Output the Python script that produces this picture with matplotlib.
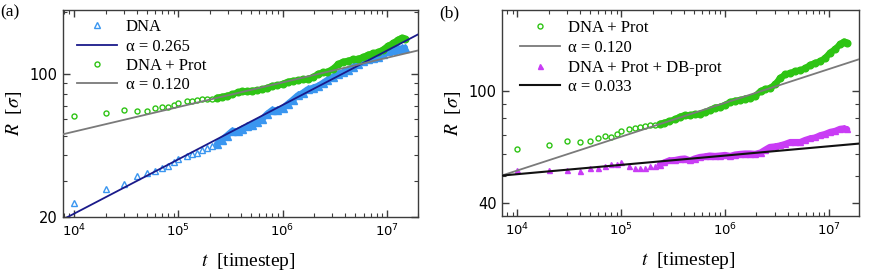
import numpy as np
import matplotlib
matplotlib.use('Agg')
import matplotlib.pyplot as plt
from matplotlib.ticker import FixedLocator, NullFormatter, LogLocator
from matplotlib.font_manager import FontProperties

# ---- data ----
timestep = [1e4, 2e4, 3e4, 4e4, 5e4, 6e4, 7e4, 8e4, 9e4, 1e5,
            1.2e5, 1.35e5, 1.5e5, 1.7e5, 1.9e5, 2.1e5, 2.35e5, 2.6e5, 2.9e5, 3.3e5,
            3.7e5, 4.1e5, 4.6e5, 5.1e5, 5.7e5, 6.4e5, 7.1e5, 8e5, 8.9e5, 1e6,
            1.12e6, 1.25e6, 1.4e6, 1.56e6, 1.74e6, 1.95e6, 2.2e6, 2.45e6, 2.7e6, 3.05e6,
            3.4e6, 3.8e6, 4.25e6, 4.75e6, 5.3e6, 5.9e6, 6.6e6, 7.4e6, 8.2e6, 9.2e6,
            1.03e7, 1.15e7, 1.28e7, 1.4e7, 1.5e7]

R_dna = [23.3, 27.5, 29.0, 31.6, 32.9, 33.4, 34.6, 35.5, 37.1, 38.3,
         39.7, 40.4, 41.3, 42.3, 43.5, 44.5, 45.5, 47.6, 49.8, 52.7,
         52.4, 53.9, 55.4, 56.3, 58.3, 60.3, 63.7, 66.7, 66.3, 67.8,
         71.3, 74.6, 78.5, 80.7, 84.0, 85.4, 87.4, 90.4, 93.5, 96.7,
         100.0, 101.7, 104.6, 108.2, 111.9, 115.8, 117.7, 119.7, 121.1, 125.2,
         128.8, 130.3, 132.5, 133.2, 134.0]

R_dna_prot = [62.3, 64.3, 66.4, 65.7, 66.2, 68.0, 69.0, 68.8, 70.5, 71.9,
              73.4, 74.0, 74.8, 75.3, 75.5, 75.6, 76.5, 77.2, 78.1, 79.4,
              81.2, 82.1, 82.1, 82.8, 83.0, 84.0, 85.4, 87.4, 87.8, 89.3,
              91.4, 92.4, 92.9, 94.0, 94.5, 96.1, 100.0, 101.7, 102.3, 105.8,
              111.3, 114.5, 115.8, 117.7, 118.4, 120.4, 123.8, 125.9, 127.4, 131.0,
              137.0, 140.9, 146.6, 149.9, 148.3]

R_dna_prot_db = [52.5, 52.5, 52.5, 51.9, 53.2, 53.5, 54.3, 55.0, 55.0, 55.8,
                 54.0, 53.3, 53.1, 53.5, 54.0, 54.4, 54.8, 55.8, 56.7, 56.9,
                 57.4, 57.6, 56.7, 57.6, 58.3, 58.6, 59.0, 58.8, 59.0, 59.3,
                 58.8, 59.5, 59.8, 60.0, 60.0, 59.8, 60.5, 62.0, 63.3, 63.6,
                 64.1, 64.9, 65.9, 65.9, 65.9, 67.0, 67.9, 68.4, 69.6, 70.4,
                 71.6, 72.2, 73.4, 73.7, 73.1]

alpha_dna, pref_dna = 0.265, 1.81
alpha_prot, pref_prot = 0.120, 17.3
alpha_db, pref_db = 0.033, 37.4

labels_a = ['DNA', 'α = 0.265', 'DNA + Prot', 'α = 0.120']
labels_b = ['DNA + Prot', 'α = 0.120', 'DNA + Prot + DB-prot', 'α = 0.033']

# ---- style ----
plt.rcParams['mathtext.fontset'] = 'dejavusans'
plt.rcParams['font.family'] = ['DejaVu Sans']

C_BLUE = '#3a96f0'
C_NAVY = '#1a1a8a'
C_GREEN = '#2ec414'
C_PURPLE = '#c93cf5'
C_GRAY = '#7a7a7a'
C_BLACK = '#111111'
C_SPINE = '#3c3c3c'

fp_leg = FontProperties(family='Liberation Serif', size=12)
fp_lab = FontProperties(family='Liberation Serif', size=14, math_fontfamily='stix')

t = np.array(timestep)
dense = t >= 2.35e5

fig = plt.figure(figsize=(8.72, 2.78), dpi=100)
axA = fig.add_axes([63/872, 1-217/278, 355/872, 207/278])
axB = fig.add_axes([502/872, 1-216/278, 357/872, 206/278])


def style(ax, xlim, ylim, yticks, yminor):
    ax.set_xscale('log')
    ax.set_yscale('log')
    ax.set_xlim(*xlim)
    ax.set_ylim(*ylim)
    ax.yaxis.set_major_locator(FixedLocator(yticks))
    ax.set_yticklabels([str(v) for v in yticks])
    ax.yaxis.set_minor_locator(FixedLocator(yminor))
    ax.yaxis.set_minor_formatter(NullFormatter())
    ax.xaxis.set_major_locator(LogLocator(base=10))
    ax.xaxis.set_minor_locator(LogLocator(base=10, subs=np.arange(2, 10)))
    ax.xaxis.set_minor_formatter(NullFormatter())
    ax.tick_params(which='both', direction='in', top=True, right=True, color=C_SPINE)
    ax.tick_params(which='major', length=5, width=1)
    ax.tick_params(which='minor', length=3, width=0.8)
    ax.tick_params(axis='y', labelsize=10.5, pad=4)
    ax.tick_params(axis='x', labelsize=9.5, pad=4)
    for s in ax.spines.values():
        s.set_color(C_SPINE)
        s.set_linewidth(1)
    ax.set_xlabel(r'$t$  [timestep]', fontproperties=fp_lab)
    ax.set_ylabel(r'$R$  [$\sigma$]', fontproperties=fp_lab, labelpad=4)
    ax.xaxis.set_label_coords(0.523, -0.165)


def series(ax, R, marker, color, filled, ms):
    R = np.array(R)
    # dense late-time samples overlap into a solid noisy band
    ax.plot(t[dense], R[dense], '-', color=color, lw=4.5, zorder=2,
            solid_capstyle='round')
    ax.plot(t[dense], R[dense], linestyle='none', marker=marker, ms=ms + 1.2,
            mfc=color, mec=color, mew=1.0, zorder=3)
    h, = ax.plot(t[~dense], R[~dense], linestyle='none', marker=marker, ms=ms,
                 mfc=(color if filled else 'white'), mec=color, mew=1.0, zorder=3)
    return h


def fit(ax, pref, alpha, color, lw):
    x0, x1 = ax.get_xlim()
    tl = np.logspace(np.log10(x0), np.log10(x1), 50)
    h, = ax.plot(tl, pref * tl ** alpha, '-', color=color, lw=lw, zorder=4)
    return h


# Panel (a)
style(axA, (7.8e3, 2.0e7), (20, 205), [20, 100], [30, 40, 50, 60, 70, 80, 90, 200])
hA1 = series(axA, R_dna, '^', C_BLUE, False, 4.2)
hA3 = series(axA, R_dna_prot, 'o', C_GREEN, False, 3.6)
hA2 = fit(axA, pref_dna, alpha_dna, C_NAVY, 1.3)
hA4 = fit(axA, pref_prot, alpha_prot, C_GRAY, 1.3)
axA.legend([hA1, hA2, hA3, hA4], labels_a, loc='upper left', bbox_to_anchor=(0.04, 0.955),
           frameon=False, prop=fp_leg, handlelength=2.4, handletextpad=0.5,
           labelspacing=0.2, borderpad=0, borderaxespad=0, numpoints=1)

# Panel (b)
style(axB, (7.1e3, 1.95e7), (36, 194), [40, 100], [50, 60, 70, 80, 90])
hB1 = series(axB, R_dna_prot, 'o', C_GREEN, False, 3.6)
hB3 = series(axB, R_dna_prot_db, '^', C_PURPLE, True, 3.6)
hB2 = fit(axB, pref_prot, alpha_prot, C_GRAY, 1.3)
hB4 = fit(axB, pref_db, alpha_db, C_BLACK, 1.5)
axB.legend([hB1, hB2, hB3, hB4], labels_b, loc='upper left', bbox_to_anchor=(0.05, 0.95),
           frameon=False, prop=fp_leg, handlelength=2.4, handletextpad=0.5,
           labelspacing=0.22, borderpad=0, borderaxespad=0, numpoints=1)

fig.text(0.0, 1-12/278, '(a)', family='Liberation Serif', fontsize=12.5, va='center', ha='left')
fig.text(439/872, 1-13/278, '(b)', family='Liberation Serif', fontsize=12.5, va='center', ha='left')

fig.savefig('out.png', dpi=100)
